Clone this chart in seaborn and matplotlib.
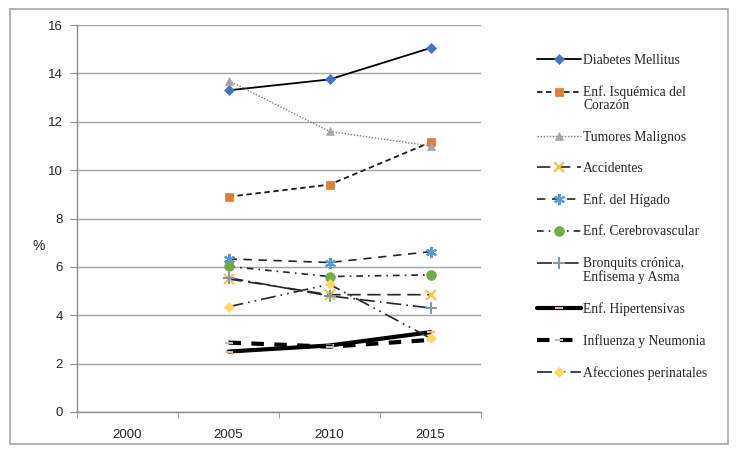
import numpy as np
import pandas as pd
import seaborn as sns
import matplotlib.pyplot as plt
from matplotlib.legend_handler import HandlerLine2D
from matplotlib.patches import Rectangle

# Data (% by year)
years = [2005, 2010, 2015]
year_ticks = [2000, 2005, 2010, 2015]

diabetes = [13.3, 13.75, 15.05]
isquemica = [8.9, 9.4, 11.15]
tumores = [13.7, 11.6, 11.0]
accidentes = [5.5, 4.85, 4.85]
higado = [6.33, 6.18, 6.63]
cerebro = [6.02, 5.6, 5.67]
bronquitis = [5.55, 4.8, 4.3]
hipertensivas = [2.5, 2.75, 3.3]
influenza = [2.87, 2.7, 2.98]
perinatales = [4.35, 5.28, 3.05]

labels = ['Diabetes Mellitus', 'Enf. Isquémica del\nCorazón', 'Tumores Malignos',
          'Accidentes', 'Enf. del Hígado', 'Enf. Cerebrovascular',
          'Bronquits crónica,\nEnfisema y Asma', 'Enf. Hipertensivas',
          'Influenza y Neumonia', 'Afecciones perinatales']
values = [diabetes, isquemica, tumores, accidentes, higado, cerebro,
          bronquitis, hipertensivas, influenza, perinatales]

# line style, line width, line colour, marker, marker size, marker colour
styles = [
    ('-', 1.3, '#000000', 'D', 5, '#4472C4'),
    ((0, (3, 2)), 1.3, '#1a1a1a', 's', 6, '#E07B39'),
    ((0, (1, 1.2)), 1.0, '#7f7f7f', '^', 6, '#A5A5A5'),
    ((0, (8, 4)), 1.2, '#262626', 'x', 7, '#F2C14E'),
    ((0, (5, 4)), 1.2, '#262626', (6, 2, 0), 8, '#5B9BD5'),
    ((0, (4, 3, 1, 3)), 1.2, '#262626', 'o', 7, '#70AD47'),
    ((0, (9, 3, 1, 3)), 1.2, '#262626', '+', 8, '#8497B0'),
    ('-', 3.0, '#000000', '_', 6, '#F4B183'),
    ((0, (3, 2.5)), 3.0, '#000000', '_', 6, '#BFBFBF'),
    ((0, (9, 3, 1, 3, 1, 3)), 1.2, '#262626', 'D', 5, '#FFD966'),
]

sns.set_style('white')

fig = plt.figure(figsize=(7.37, 4.53), dpi=100)
ax = fig.add_axes([77 / 737, 1 - 412 / 453, 404 / 737, 387 / 453])

for lab, vals, (ls, lw, lc, mk, ms, mc) in zip(labels, values, styles):
    df = pd.DataFrame({'Año': years, 'Valor': vals})
    thin = mk in ('x', '+', '_') or isinstance(mk, tuple)
    sns.lineplot(data=df, x='Año', y='Valor', ax=ax, color=lc, linestyle=ls,
                 linewidth=lw, marker=mk, markersize=ms, markerfacecolor=mc,
                 markeredgecolor=mc, markeredgewidth=1.5 if thin else 0.5,
                 label=lab)

ax.set_xlim(1997.5, 2017.5)
ax.set_ylim(0, 16)
ax.set_yticks(np.arange(0, 17, 2))
ax.set_xticks(year_ticks)
ax.set_xticks([1997.5, 2002.5, 2007.5, 2012.5, 2017.5], minor=True)
ax.set_xticklabels([str(y) for y in year_ticks])
ax.tick_params(axis='x', which='major', length=0, pad=12, labelsize=9.5)
ax.tick_params(axis='x', which='minor', length=4, color='#8c8c8c', direction='out', bottom=True)
ax.tick_params(axis='y', length=5, color='#8c8c8c', direction='out', left=True, labelsize=9.5, pad=5)
for t in ax.get_xticklabels() + ax.get_yticklabels():
    t.set_fontfamily('Liberation Sans')
ax.set_xlabel('')
ax.set_ylabel('%', rotation=0, fontsize=10, family='Liberation Sans')
ax.yaxis.set_label_coords(-0.095, 0.41)
ax.grid(axis='y', color='#a6a6a6', linewidth=1)
ax.grid(axis='x', visible=False)
ax.set_axisbelow(True)
for s in ['top', 'right']:
    ax.spines[s].set_visible(False)
for s in ['left', 'bottom']:
    ax.spines[s].set_color('#8c8c8c')
    ax.spines[s].set_linewidth(1)


class FirstLineHandler(HandlerLine2D):
    # align handle with the first line of a two-line label
    def __init__(self, shift=0, **kw):
        super().__init__(**kw)
        self.shift = shift

    def create_artists(self, legend, orig_handle, xdescent, ydescent,
                       width, height, fontsize, trans):
        return super().create_artists(legend, orig_handle, xdescent,
                                      ydescent - self.shift, width, height,
                                      fontsize, trans)


handles, labs = ax.get_legend_handles_labels()
hmap = {h: FirstLineHandler(shift=10 if '\n' in l else 0, numpoints=1)
        for h, l in zip(handles, labs)}
leg = ax.legend(handles, labs, handler_map=hmap, loc='upper left',
                bbox_to_anchor=(537 / 737, 1 - 54 / 453), bbox_transform=fig.transFigure,
                frameon=False, borderpad=0, borderaxespad=0, handlelength=3.25,
                handletextpad=0.15, labelspacing=1.35,
                prop={'family': 'Liberation Serif', 'size': 9.8})
for t in leg.get_texts():
    t.set_linespacing(1.0)

fig.add_artist(Rectangle((10 / 737, 1 - 444 / 453), 718 / 737, 435 / 453,
                         transform=fig.transFigure, fill=False,
                         edgecolor='#a6a6a6', linewidth=1.2))

fig.savefig('out.png', dpi=100)
